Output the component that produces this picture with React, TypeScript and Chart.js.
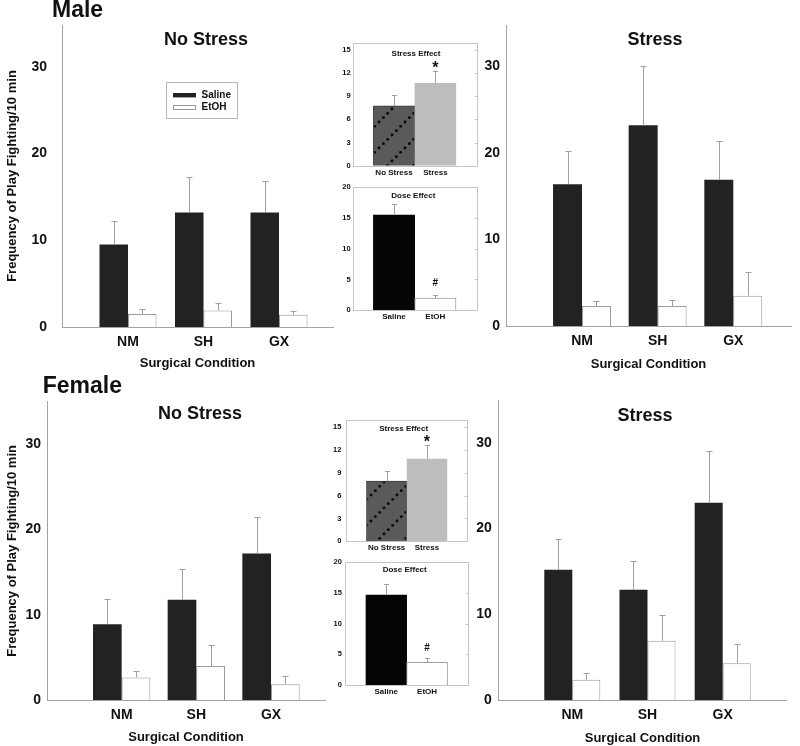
import React, { useEffect, useRef } from 'react';
import { Chart, registerables } from 'chart.js';

Chart.register(...registerables);

const FONT = "'Liberation Sans', Arial, Helvetica, sans-serif";
const TEXT = '#111111';
const AXIS = '#a3a3a3';
const WHISKER = '#a0a0a0';

// ---------- data ----------
const categories = ['NM', 'SH', 'GX'];
const categoryPositions = [1, 2, 3];
const seriesNames = ['Saline', 'EtOH'];
const mainYTicks = [0, 10, 20, 30];
const yTitleText = 'Frequency of Play Fighting/10 min';
const xTitleText = 'Surgical Condition';

const maleNoStressSaline = [9.5, 13.2, 13.2];
const maleNoStressSalineSem = [2.7, 4.1, 3.6];
const maleNoStressEtoh = [1.5, 1.9, 1.4];
const maleNoStressEtohSem = [0.6, 0.9, 0.5];

const maleStressSaline = [16.4, 23.2, 16.9];
const maleStressSalineSem = [3.85, 6.9, 4.5];
const maleStressEtoh = [2.3, 2.3, 3.5];
const maleStressEtohSem = [0.6, 0.7, 2.7];

const femaleNoStressSaline = [8.9, 11.75, 17.2];
const femaleNoStressSalineSem = [2.9, 3.65, 4.3];
const femaleNoStressEtoh = [2.65, 4.0, 1.85];
const femaleNoStressEtohSem = [0.75, 2.45, 0.95];

const femaleStressSaline = [15.2, 12.85, 23.0];
const femaleStressSalineSem = [3.55, 3.4, 6.0];
const femaleStressEtoh = [2.35, 6.9, 4.3];
const femaleStressEtohSem = [0.75, 3.05, 2.2];

const insetPositions = [1, 2];
const stressLabels = ['No Stress', 'Stress'];
const doseLabels = ['Saline', 'EtOH'];
const stressTicks = [0, 3, 6, 9, 12, 15];
const doseTicks = [0, 5, 10, 15, 20];
const stressMarks = ['', '*'];
const doseMarks = ['', '#'];

const maleStressEffect = [7.75, 10.7];
const maleStressEffectSem = [1.35, 1.6];
const maleDoseEffect = [15.5, 2.0];
const maleDoseEffectSem = [1.8, 0.55];

const femaleStressEffect = [7.9, 10.85];
const femaleStressEffectSem = [1.3, 1.75];
const femaleDoseEffect = [14.7, 3.7];
const femaleDoseEffectSem = [1.7, 0.75];

// ---------- layout types ----------
type Rect = { x: number; y: number; w: number; h: number };
type Area = { L: number; T: number; R: number; B: number };

function frameLayout(c: Rect, a: Area) {
  return {
    padding: { top: a.T - c.y, right: c.x + c.w - a.R, left: 0, bottom: 0 },
    yWidth: a.L - c.x,
    xHeight: c.y + c.h - a.B,
  };
}

// ---------- plugins ----------
const errorBarPlugin = {
  id: 'errorBars',
  afterDatasetsDraw(chart: any) {
    const ctx = chart.ctx;
    const ys = chart.scales.y;
    chart.data.datasets.forEach((ds: any, di: number) => {
      const errs: number[] | undefined = ds.errors;
      if (!errs) return;
      const meta = chart.getDatasetMeta(di);
      const cap = ds.capWidth ?? 6;
      meta.data.forEach((el: any, i: number) => {
        const v = ds.data[i].y;
        const top = ys.getPixelForValue(v + errs[i]);
        const x = Math.round(el.x) + 0.5;
        const ty = Math.round(top) + 0.5;
        ctx.save();
        ctx.strokeStyle = WHISKER;
        ctx.lineWidth = 1;
        ctx.beginPath();
        ctx.moveTo(x, el.y);
        ctx.lineTo(x, ty);
        ctx.moveTo(x - cap / 2, ty);
        ctx.lineTo(x + cap / 2, ty);
        ctx.stroke();
        const mark = ds.marks ? ds.marks[i] : '';
        if (mark) {
          ctx.fillStyle = TEXT;
          ctx.font = ds.markFont;
          ctx.textAlign = 'center';
          ctx.textBaseline = 'alphabetic';
          ctx.fillText(mark, el.x, top + ds.markDy);
        }
        ctx.restore();
      });
    });
  },
};

const legendPlugin = {
  id: 'boxLegend',
  afterDraw(chart: any, _args: any, opts: any) {
    if (!opts || !opts.box) return;
    const b = opts.box;
    const ctx = chart.ctx;
    ctx.save();
    ctx.strokeStyle = '#b8b8b8';
    ctx.lineWidth = 1;
    ctx.strokeRect(Math.round(b.x) + 0.5, Math.round(b.y) + 0.5, b.w, b.h);
    ctx.font = `bold 10px ${FONT}`;
    ctx.textBaseline = 'middle';
    ctx.textAlign = 'left';
    chart.data.datasets.forEach((ds: any, i: number) => {
      const cy = b.y + 13.2 + i * 11.7;
      ctx.fillStyle = ds.backgroundColor;
      ctx.fillRect(b.x + 7, cy - 2.2, 23, 4.4);
      if (ds.borderWidth) {
        ctx.strokeStyle = ds.borderColor;
        ctx.strokeRect(b.x + 7.5, Math.round(cy - 2.2) + 0.5, 22, 4);
      }
      ctx.fillStyle = TEXT;
      ctx.fillText(ds.label, b.x + 35.5, cy);
    });
    ctx.restore();
  },
};

const framePlugin = {
  id: 'insetFrame',
  beforeDatasetsDraw(chart: any) {
    const ctx = chart.ctx;
    const a = chart.chartArea;
    ctx.save();
    ctx.strokeStyle = '#c6c6c6';
    ctx.lineWidth = 1;
    const l = Math.round(a.left) + 0.5;
    const t = Math.round(a.top) + 0.5;
    const r = Math.round(a.right) + 0.5;
    const btm = Math.round(a.bottom) + 0.5;
    ctx.strokeRect(l, t, r - l, btm - t);
    const ys = chart.scales.y;
    ctx.beginPath();
    ys.ticks.forEach((tk: any) => {
      const py = Math.round(ys.getPixelForValue(tk.value)) + 0.5;
      ctx.moveTo(r - 3, py);
      ctx.lineTo(r, py);
    });
    ctx.stroke();
    ctx.restore();
  },
};

function makeHatch(): any {
  const c = document.createElement('canvas');
  const s = 26;
  c.width = s;
  c.height = s;
  const g = c.getContext('2d');
  if (!g) return '#585858';
  g.fillStyle = '#5a5a5a';
  g.fillRect(0, 0, s, s);
  g.fillStyle = '#080808';
  const n = 6;
  for (let k = 0; k < n; k++) {
    const t = (k * s) / n;
    g.beginPath();
    g.arc(t + 2, s - t - 2, 1.45, 0, Math.PI * 2);
    g.fill();
  }
  return g.createPattern(c, 'repeat');
}

// ---------- panel configs ----------
type MainPanel = {
  canvas: Rect;
  area: Area;
  xMin: number;
  xMax: number;
  yMax: number;
  catPct: number;
  yTickPad: number;
  xTitlePad: number;
  yTitle: boolean;
  legendBox?: { x: number; y: number; w: number; h: number };
  saline: number[];
  salineSem: number[];
  etoh: number[];
  etohSem: number[];
};

function mainConfig(p: MainPanel) {
  const lay = frameLayout(p.canvas, p.area);
  const tickFont = { family: FONT, size: 14, weight: 'bold' as const };
  const titleFont = { family: FONT, size: 13, weight: 'bold' as const };
  return {
    type: 'bar',
    data: {
      datasets: [
        {
          label: seriesNames[0],
          data: categoryPositions.map((x, i) => ({ x, y: p.saline[i] })),
          errors: p.salineSem,
          backgroundColor: '#222222',
          borderWidth: 0,
        },
        {
          label: seriesNames[1],
          data: categoryPositions.map((x, i) => ({ x, y: p.etoh[i] })),
          errors: p.etohSem,
          backgroundColor: '#ffffff',
          borderColor: '#9a9a9a',
          borderWidth: 1,
        },
      ],
    },
    options: {
      animation: false,
      responsive: false,
      maintainAspectRatio: false,
      layout: { padding: lay.padding },
      datasets: { bar: { categoryPercentage: p.catPct, barPercentage: 1 } },
      plugins: {
        legend: { display: false },
        tooltip: { enabled: false },
        boxLegend: p.legendBox ? { box: p.legendBox } : {},
      },
      scales: {
        x: {
          type: 'linear',
          min: p.xMin,
          max: p.xMax,
          offset: false,
          afterBuildTicks: (s: any) => {
            s.ticks = categoryPositions.map((v) => ({ value: v }));
          },
          grid: { display: false, drawTicks: false },
          border: { display: true, color: AXIS, width: 1 },
          ticks: {
            font: tickFont,
            color: TEXT,
            padding: 7,
            autoSkip: false,
            maxRotation: 0,
            callback: (v: any) => categories[categoryPositions.indexOf(v)] ?? '',
          },
          title: {
            display: true,
            text: xTitleText,
            font: titleFont,
            color: TEXT,
            padding: { top: 0, bottom: p.xTitlePad },
          },
          afterFit: (s: any) => {
            s.height = lay.xHeight;
          },
        },
        y: {
          min: 0,
          max: p.yMax,
          afterBuildTicks: (s: any) => {
            s.ticks = mainYTicks.map((v) => ({ value: v }));
          },
          grid: { display: false, drawTicks: false },
          border: { display: true, color: AXIS, width: 1 },
          ticks: { font: tickFont, color: TEXT, padding: p.yTickPad, callback: (v: any) => String(v) },
          title: p.yTitle
            ? { display: true, text: yTitleText, font: titleFont, color: TEXT, padding: { top: 5, bottom: 0 } }
            : { display: false },
          afterFit: (s: any) => {
            s.width = lay.yWidth;
          },
        },
      },
    },
    plugins: [errorBarPlugin, legendPlugin],
  };
}

type InsetPanel = {
  canvas: Rect;
  area: Area;
  yMax: number;
  yTicks: number[];
  labels: string[];
  values: number[];
  sems: number[];
  marks: string[];
  colors: (hatch: any) => any[];
  borders: string[];
  yTickPad: number;
  markFont: string;
  markDy: number;
};

function insetConfig(p: InsetPanel) {
  const lay = frameLayout(p.canvas, p.area);
  const hatch = makeHatch();
  const small = { family: FONT, size: 7.5, weight: 'bold' as const };
  const lbl = { family: FONT, size: 8, weight: 'bold' as const };
  return {
    type: 'bar',
    data: {
      datasets: [
        {
          label: p.labels.join(' / '),
          data: insetPositions.map((x, i) => ({ x, y: p.values[i] })),
          errors: p.sems,
          marks: p.marks,
          markFont: p.markFont,
          markDy: p.markDy,
          capWidth: 5,
          backgroundColor: p.colors(hatch),
          borderColor: p.borders,
          borderWidth: 1,
        },
      ],
    },
    options: {
      animation: false,
      responsive: false,
      maintainAspectRatio: false,
      layout: { padding: lay.padding },
      datasets: { bar: { categoryPercentage: 1, barPercentage: 1 } },
      plugins: { legend: { display: false }, tooltip: { enabled: false } },
      scales: {
        x: {
          type: 'linear',
          min: 0,
          max: 3,
          offset: false,
          afterBuildTicks: (s: any) => {
            s.ticks = insetPositions.map((v) => ({ value: v }));
          },
          grid: { display: false, drawTicks: false },
          border: { display: false },
          ticks: {
            font: lbl,
            color: TEXT,
            padding: 1.8,
            autoSkip: false,
            maxRotation: 0,
            callback: (v: any) => p.labels[insetPositions.indexOf(v)] ?? '',
          },
          afterFit: (s: any) => {
            s.height = lay.xHeight;
          },
        },
        y: {
          min: 0,
          max: p.yMax,
          afterBuildTicks: (s: any) => {
            s.ticks = p.yTicks.map((v) => ({ value: v }));
          },
          grid: { display: false, drawTicks: false },
          border: { display: false },
          ticks: { font: small, color: TEXT, padding: p.yTickPad, callback: (v: any) => String(v) },
          afterFit: (s: any) => {
            s.width = lay.yWidth;
          },
        },
      },
    },
    plugins: [framePlugin, errorBarPlugin],
  };
}

const stressColors = (hatch: any) => [hatch, '#bdbdbd'];
const doseColors = () => ['#050505', '#ffffff'];
const stressBorders = ['#3a3a3a', '#bdbdbd'];
const doseBorders = ['#050505', '#a0a0a0'];

const mainPanels: MainPanel[] = [
  {
    canvas: { x: 0, y: 0, w: 338, h: 375 },
    area: { L: 62, T: 25, R: 333, B: 327 },
    xMin: 0.126,
    xMax: 3.715,
    yMax: 34.8,
    catPct: 0.755,
    yTickPad: 15,
    xTitlePad: 4,
    yTitle: true,
    legendBox: { x: 166, y: 82, w: 71, h: 36 },
    saline: maleNoStressSaline,
    salineSem: maleNoStressSalineSem,
    etoh: maleNoStressEtoh,
    etohSem: maleNoStressEtohSem,
  },
  {
    canvas: { x: 483, y: 0, w: 317, h: 375 },
    area: { L: 506, T: 25, R: 791, B: 326 },
    xMin: -0.005,
    xMax: 3.763,
    yMax: 34.8,
    catPct: 0.766,
    yTickPad: 6,
    xTitlePad: 3,
    yTitle: false,
    saline: maleStressSaline,
    salineSem: maleStressSalineSem,
    etoh: maleStressEtoh,
    etohSem: maleStressEtohSem,
  },
  {
    canvas: { x: 0, y: 384, w: 330, h: 362 },
    area: { L: 47, T: 401.7, R: 325, B: 700 },
    xMin: 0,
    xMax: 3.723,
    yMax: 35,
    catPct: 0.768,
    yTickPad: 6,
    xTitlePad: 0.5,
    yTitle: true,
    saline: femaleNoStressSaline,
    salineSem: femaleNoStressSalineSem,
    etoh: femaleNoStressEtoh,
    etohSem: femaleNoStressEtohSem,
  },
  {
    canvas: { x: 476, y: 382, w: 324, h: 364 },
    area: { L: 498.3, T: 400, R: 786.7, B: 700 },
    xMin: 0.016,
    xMax: 3.851,
    yMax: 35,
    catPct: 0.745,
    yTickPad: 6.5,
    xTitlePad: 0,
    yTitle: false,
    saline: femaleStressSaline,
    salineSem: femaleStressSalineSem,
    etoh: femaleStressEtoh,
    etohSem: femaleStressEtohSem,
  },
];

const starFont = `bold 16px ${FONT}`;
const hashFont = `bold 10px ${FONT}`;

const insetPanels: InsetPanel[] = [
  {
    canvas: { x: 338, y: 33, w: 145, h: 148 },
    area: { L: 352.7, T: 43, R: 476.7, B: 165.7 },
    yMax: 15.9,
    yTicks: stressTicks,
    labels: stressLabels,
    values: maleStressEffect,
    sems: maleStressEffectSem,
    marks: stressMarks,
    colors: stressColors,
    borders: stressBorders,
    yTickPad: 2,
    markFont: starFont,
    markDy: 2,
  },
  {
    canvas: { x: 338, y: 177, w: 145, h: 153 },
    area: { L: 352.7, T: 187, R: 476.7, B: 310.3 },
    yMax: 20,
    yTicks: doseTicks,
    labels: doseLabels,
    values: maleDoseEffect,
    sems: maleDoseEffectSem,
    marks: doseMarks,
    colors: doseColors,
    borders: doseBorders,
    yTickPad: 2,
    markFont: hashFont,
    markDy: -9,
  },
  {
    canvas: { x: 330, y: 406, w: 145, h: 151 },
    area: { L: 346.3, T: 420.3, R: 467.3, B: 541.3 },
    yMax: 15.9,
    yTicks: stressTicks,
    labels: stressLabels,
    values: femaleStressEffect,
    sems: femaleStressEffectSem,
    marks: stressMarks,
    colors: stressColors,
    borders: stressBorders,
    yTickPad: 5,
    markFont: starFont,
    markDy: 2,
  },
  {
    canvas: { x: 330, y: 550, w: 145, h: 150 },
    area: { L: 345.3, T: 562.3, R: 468, B: 685 },
    yMax: 20,
    yTicks: doseTicks,
    labels: doseLabels,
    values: femaleDoseEffect,
    sems: femaleDoseEffectSem,
    marks: doseMarks,
    colors: doseColors,
    borders: doseBorders,
    yTickPad: 3.5,
    markFont: hashFont,
    markDy: -6.5,
  },
];

// ---------- text labels ----------
const headings = [
  { text: 'Male', x: 52, y: 8.5, size: 23, center: false },
  { text: 'Female', x: 42.7, y: 385, size: 23, center: false },
  { text: 'No Stress', x: 206, y: 39, size: 18, center: true },
  { text: 'Stress', x: 655, y: 39, size: 18, center: true },
  { text: 'No Stress', x: 200, y: 413, size: 18, center: true },
  { text: 'Stress', x: 645, y: 415, size: 18, center: true },
  { text: 'Stress Effect', x: 416, y: 53.7, size: 8, center: true },
  { text: 'Dose Effect', x: 413.3, y: 196, size: 8, center: true },
  { text: 'Stress Effect', x: 403.7, y: 428.7, size: 8, center: true },
  { text: 'Dose Effect', x: 404.7, y: 570, size: 8, center: true },
];

function ChartCanvas({ rect, make }: { rect: Rect; make: () => any }) {
  const ref = useRef<HTMLCanvasElement>(null);
  useEffect(() => {
    if (!ref.current) return;
    const chart = new Chart(ref.current, make());
    return () => chart.destroy();
  }, []);
  return (
    <canvas
      ref={ref}
      width={rect.w}
      height={rect.h}
      style={{ position: 'absolute', left: rect.x, top: rect.y, width: rect.w, height: rect.h }}
    />
  );
}

export default function App() {
  return (
    <div
      style={{
        position: 'absolute',
        left: 0,
        top: 0,
        width: 800,
        height: 746,
        background: '#ffffff',
        overflow: 'hidden',
        fontFamily: FONT,
        color: TEXT,
      }}
    >
      {mainPanels.map((p, i) => (
        <ChartCanvas key={'m' + i} rect={p.canvas} make={() => mainConfig(p)} />
      ))}
      {insetPanels.map((p, i) => (
        <ChartCanvas key={'i' + i} rect={p.canvas} make={() => insetConfig(p)} />
      ))}
      {headings.map((h, i) => (
        <div
          key={'h' + i}
          style={{
            position: 'absolute',
            left: h.x,
            top: h.y,
            fontSize: h.size,
            fontWeight: 'bold',
            lineHeight: 1,
            whiteSpace: 'nowrap',
            transform: h.center ? 'translate(-50%, -50%)' : 'translate(0, -50%)',
          }}
        >
          {h.text}
        </div>
      ))}
    </div>
  );
}
